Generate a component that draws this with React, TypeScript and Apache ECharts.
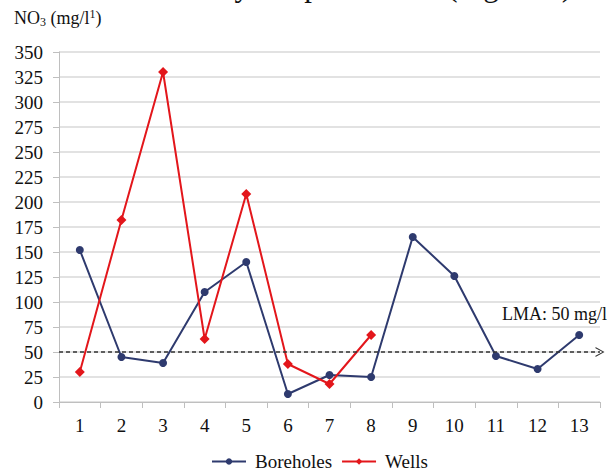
import React, { useEffect, useRef } from "react";
import * as echarts from "echarts";

const categories = ["1", "2", "3", "4", "5", "6", "7", "8", "9", "10", "11", "12", "13"];
const boreholes = [152, 45, 39, 110, 140, 8, 27, 25, 165, 126, 46, 33, 67];
const wells = [30, 182, 330, 63, 208, 38, 18, 67, null, null, null, null, null];
const limitValue = 50;
const limitLabel = "LMA: 50 mg/l";
const yTitle = "NO{sub|3} (mg/l{sup|1})";
const topText = "monthly temporal trend (Figure 4)";

const FONT = "Liberation Serif";

export default function App() {
  const ref = useRef<HTMLDivElement>(null);
  useEffect(() => {
    if (!ref.current) return;
    const chart = echarts.init(ref.current, null, { renderer: "svg" });
    const chevron = "path://M0,10 L5,0 L10,10 L8.8,10 L5,2.2 L1.2,10 Z";
    chart.setOption({
      animation: false,
      backgroundColor: "#fff",
      textStyle: { fontFamily: FONT },
      grid: { left: 59, right: 11, top: 52, bottom: 73, containLabel: false },
      legend: {
        bottom: -1,
        left: 206,
        itemWidth: 34,
        itemHeight: 8,
        itemGap: 9,
        textStyle: { fontFamily: FONT, fontSize: 19, color: "#111", padding: [0, 0, 0, 4] },
        data: ["Boreholes", "Wells"],
      },
      xAxis: {
        type: "category",
        data: categories,
        boundaryGap: true,
        axisLine: { lineStyle: { color: "#bfbfbf", width: 1 } },
        axisTick: { show: true, length: 6, lineStyle: { color: "#bfbfbf" } },
        axisLabel: { fontFamily: FONT, fontSize: 19, color: "#111", margin: 14 },
        splitLine: { show: false },
      },
      yAxis: {
        type: "value",
        min: 0,
        max: 350,
        interval: 25,
        axisLine: { show: true, lineStyle: { color: "#bfbfbf", width: 1 } },
        axisTick: { show: true, length: 6, lineStyle: { color: "#bfbfbf" } },
        axisLabel: { fontFamily: FONT, fontSize: 19, color: "#111", margin: 16 },
        splitLine: { show: true, lineStyle: { color: "#d9d9d9", width: 1.5 } },
      },
      series: [
        {
          name: "Boreholes",
          type: "line",
          data: boreholes,
          color: "#2e3a6e",
          symbol: "circle",
          symbolSize: 8,
          lineStyle: { width: 2, color: "#2e3a6e" },
          itemStyle: { color: "#2e3a6e" },
          z: 3,
          markLine: {
            silent: true,
            symbol: ["none", chevron],
            symbolSize: [10, 9],
            label: { show: false },
            lineStyle: { type: [4, 3], color: "#333", width: 1.5 },
            data: [{ yAxis: limitValue }],
          },
        },
        {
          name: "Wells",
          type: "line",
          data: wells,
          color: "#e3161b",
          symbol: "diamond",
          symbolSize: 10,
          lineStyle: { width: 2, color: "#e3161b" },
          itemStyle: { color: "#e3161b" },
          connectNulls: false,
          z: 4,
        },
      ],
      graphic: [
        {
          type: "text",
          left: 14,
          top: 8,
          style: {
            text: yTitle,
            fontFamily: FONT,
            fontSize: 18,
            fill: "#111",
            rich: {
              sub: { fontSize: 12, fontFamily: FONT, fill: "#111", verticalAlign: "bottom", padding: [8, 0, 0, 0] },
              sup: { fontSize: 12, fontFamily: FONT, fill: "#111", verticalAlign: "top", padding: [0, 0, 6, 0] },
            },
          },
        },
        {
          type: "text",
          x: 607,
          y: 323,
          style: {
            text: limitLabel,
            fontFamily: FONT,
            fontSize: 18,
            fill: "#111",
            align: "right",
            verticalAlign: "bottom",
          },
        },
        {
          type: "text",
          x: 572,
          y: 1,
          style: {
            text: topText,
            fontFamily: FONT,
            fontSize: 31,
            fill: "#111",
            align: "right",
            verticalAlign: "bottom",
          },
        },
      ],
    });
    return () => chart.dispose();
  }, []);
  return <div ref={ref} style={{ width: 611, height: 475, position: "absolute", left: 0, top: 0 }} />;
}
